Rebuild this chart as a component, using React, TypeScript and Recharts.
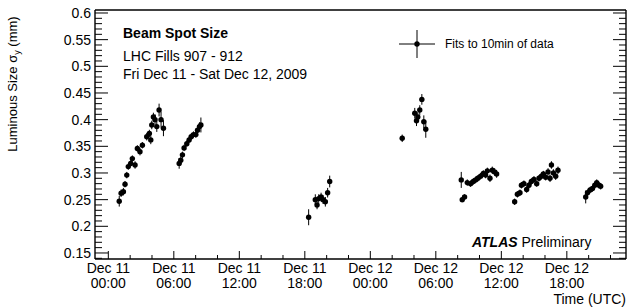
import { ScatterChart, Scatter, XAxis, YAxis, ErrorBar } from 'recharts';

// [hours since Dec 11 00:00 UTC, sigma_y (mm), error (mm)]
type Pt = [number, number, number];

const fill1: Pt[] = [
  [1.0, 0.247, 0.01], [1.17, 0.262, 0.007], [1.38, 0.265, 0.007], [1.53, 0.279, 0.006],
  [1.69, 0.296, 0.006], [1.83, 0.312, 0.006], [2.05, 0.318, 0.006], [2.2, 0.327, 0.006],
  [2.45, 0.315, 0.007], [2.66, 0.346, 0.006], [2.9, 0.34, 0.007], [3.12, 0.352, 0.006],
  [3.52, 0.368, 0.007], [3.76, 0.374, 0.007], [3.89, 0.362, 0.008], [3.98, 0.39, 0.008],
  [4.13, 0.405, 0.008], [4.28, 0.4, 0.01], [4.44, 0.387, 0.01], [4.65, 0.418, 0.012],
  [4.83, 0.4, 0.015], [5.05, 0.384, 0.015],
];
const fill2: Pt[] = [
  [6.49, 0.318, 0.01], [6.64, 0.324, 0.007], [6.79, 0.334, 0.006], [6.94, 0.347, 0.006],
  [7.19, 0.355, 0.006], [7.4, 0.362, 0.006], [7.59, 0.368, 0.006], [7.8, 0.372, 0.006],
  [8.02, 0.372, 0.006], [8.17, 0.38, 0.007], [8.35, 0.387, 0.008], [8.48, 0.39, 0.014],
];
const fill3: Pt[] = [
  [18.35, 0.217, 0.015], [18.96, 0.25, 0.01], [19.12, 0.24, 0.008], [19.27, 0.252, 0.008],
  [19.49, 0.255, 0.008], [19.67, 0.25, 0.008], [19.88, 0.246, 0.009], [20.09, 0.263, 0.009],
  [20.28, 0.284, 0.011],
];
const fill4: Pt[] = [
  [26.92, 0.365, 0.007], [28.07, 0.412, 0.01], [28.23, 0.398, 0.01], [28.35, 0.405, 0.009],
  [28.53, 0.418, 0.009], [28.72, 0.438, 0.01], [28.9, 0.396, 0.012], [29.08, 0.382, 0.016],
];
const fill5: Pt[] = [
  [32.33, 0.287, 0.015], [32.42, 0.25, 0.005], [32.63, 0.255, 0.005], [32.88, 0.282, 0.006],
  [33.18, 0.28, 0.006], [33.43, 0.284, 0.006], [33.64, 0.287, 0.006], [33.85, 0.29, 0.006],
  [34.1, 0.294, 0.006], [34.35, 0.299, 0.006], [34.56, 0.296, 0.006], [34.72, 0.304, 0.006],
  [34.96, 0.29, 0.007], [35.17, 0.305, 0.007], [35.39, 0.302, 0.007], [35.57, 0.298, 0.007],
];
const fill6: Pt[] = [
  [37.22, 0.246, 0.006], [37.47, 0.26, 0.006], [37.71, 0.263, 0.006], [37.84, 0.277, 0.006],
  [38.07, 0.28, 0.006], [38.32, 0.269, 0.006], [38.53, 0.277, 0.006], [38.75, 0.284, 0.006],
  [38.99, 0.288, 0.006], [39.24, 0.28, 0.006], [39.45, 0.29, 0.006], [39.67, 0.294, 0.006],
  [39.85, 0.298, 0.006], [40.06, 0.292, 0.006], [40.28, 0.302, 0.007], [40.46, 0.29, 0.007],
  [40.59, 0.315, 0.007], [40.77, 0.3, 0.007], [40.98, 0.294, 0.007], [41.19, 0.305, 0.007],
];
const fill7: Pt[] = [
  [43.73, 0.255, 0.012], [43.89, 0.263, 0.006], [44.13, 0.268, 0.006], [44.35, 0.271, 0.006],
  [44.56, 0.277, 0.006], [44.74, 0.282, 0.006], [44.95, 0.277, 0.006], [45.1, 0.275, 0.006],
];

const xMajor = [0, 6, 12, 18, 24, 30, 36, 42];
const xDays = ['Dec 11', 'Dec 11', 'Dec 11', 'Dec 11', 'Dec 12', 'Dec 12', 'Dec 12', 'Dec 12'];
const xTimes = ['00:00', '06:00', '12:00', '18:00', '00:00', '06:00', '12:00', '18:00'];
const yMajor = [0.15, 0.2, 0.25, 0.3, 0.35, 0.4, 0.45, 0.5, 0.55, 0.6];
const yLabels = ['0.15', '0.2', '0.25', '0.3', '0.35', '0.4', '0.45', '0.5', '0.55', '0.6'];

const X_DOMAIN: [number, number] = [-1.22, 47.42];
const Y_DOMAIN: [number, number] = [0.1387, 0.6056];

const FONT = '"Liberation Sans", Arial, Helvetica, sans-serif';

const points = [fill1, fill2, fill3, fill4, fill5, fill6, fill7]
  .flat()
  .map(([h, v, err]) => ({ h, v, err }));

// minor ticks every 2h / 0.01 mm
const xTicks: number[] = [];
for (let h = 0; h <= 46; h += 2) xTicks.push(h);
const yTicks: number[] = [];
for (let i = 14; i <= 60; i++) yTicks.push(i / 100);

const majorIdx = (arr: number[], v: number) => arr.findIndex((m) => Math.abs(m - v) < 1e-6);

function BottomTick({ x, y, payload }: any) {
  const i = majorIdx(xMajor, payload.value);
  const len = i >= 0 ? 8 : 4;
  return (
    <g>
      <line x1={x} x2={x} y1={y} y2={y - len} stroke="#000" />
      {i >= 0 && (
        <text x={x} y={y} textAnchor="middle" fontSize={14} fontFamily={FONT} fill="#000">
          <tspan x={x} dy={14}>{xDays[i]}</tspan>
          <tspan x={x} dy={15}>{xTimes[i]}</tspan>
        </text>
      )}
    </g>
  );
}

function TopTick({ x, y, payload }: any) {
  const len = majorIdx(xMajor, payload.value) >= 0 ? 8 : 4;
  return <line x1={x} x2={x} y1={y} y2={y + len} stroke="#000" />;
}

function LeftTick({ x, y, payload }: any) {
  const i = majorIdx(yMajor, payload.value);
  const len = i >= 0 ? 13 : 7;
  return (
    <g>
      <line x1={x} x2={x + len} y1={y} y2={y} stroke="#000" />
      {i >= 0 && (
        <text x={x - 4} y={y} dy={5} textAnchor="end" fontSize={14} fontFamily={FONT} fill="#000">
          {yLabels[i]}
        </text>
      )}
    </g>
  );
}

function RightTick({ x, y, payload }: any) {
  const len = majorIdx(yMajor, payload.value) >= 0 ? 13 : 7;
  return <line x1={x} x2={x - len} y1={y} y2={y} stroke="#000" />;
}

const Dot = (p: any) => <circle cx={p.cx} cy={p.cy} r={2.7} fill="#000" />;

const txt = (left: number, top: number, extra: any = {}) => ({
  position: 'absolute' as const,
  left,
  top,
  fontFamily: FONT,
  fontSize: 14,
  color: '#000',
  whiteSpace: 'nowrap' as const,
  lineHeight: 1,
  ...extra,
});

export default function App() {
  return (
    <div style={{ position: 'relative', width: 640, height: 308, background: '#fff' }}>
      <style>{'body{margin:0}'}</style>
      <ScatterChart width={640} height={308} margin={{ top: 0, right: 0, bottom: 0, left: 0 }}>
        <XAxis
          xAxisId="b"
          dataKey="h"
          type="number"
          domain={X_DOMAIN}
          allowDataOverflow
          ticks={xTicks}
          interval={0}
          height={49}
          tickSize={0}
          tickMargin={0}
          axisLine={{ stroke: '#000', strokeWidth: 1.4 }}
          tick={<BottomTick />}
        />
        <XAxis
          xAxisId="t"
          orientation="top"
          type="number"
          domain={X_DOMAIN}
          allowDataOverflow
          ticks={xTicks}
          interval={0}
          height={10}
          tickSize={0}
          tickMargin={0}
          axisLine={{ stroke: '#000', strokeWidth: 1.4 }}
          tick={<TopTick />}
        />
        <YAxis
          yAxisId="l"
          dataKey="v"
          type="number"
          domain={Y_DOMAIN}
          allowDataOverflow
          ticks={yTicks}
          interval={0}
          width={95}
          tickSize={0}
          tickMargin={0}
          axisLine={{ stroke: '#000', strokeWidth: 1.4 }}
          tick={<LeftTick />}
        />
        <YAxis
          yAxisId="r"
          orientation="right"
          type="number"
          domain={Y_DOMAIN}
          allowDataOverflow
          ticks={yTicks}
          interval={0}
          width={14}
          tickSize={0}
          tickMargin={0}
          axisLine={{ stroke: '#000', strokeWidth: 1.4 }}
          tick={<RightTick />}
        />
        <Scatter xAxisId="b" yAxisId="l" data={points} dataKey="v" shape={Dot} isAnimationActive={false}>
          <ErrorBar dataKey="err" direction="y" width={0} stroke="#000" strokeWidth={1} isAnimationActive={false} />
        </Scatter>
      </ScatterChart>

      {/* y-axis title */}
      <div
        style={txt(14, 84, {
          fontSize: 13,
          transform: 'translate(-50%, -50%) rotate(-90deg)',
        })}
      >
        Luminous Size σ<sub style={{ fontSize: 9, verticalAlign: -3 }}>y</sub> (mm)
      </div>

      <div style={txt(123, 26, { fontWeight: 'bold' })}>Beam Spot Size</div>
      <div style={txt(123, 49)}>LHC Fills 907 - 912</div>
      <div style={txt(123, 67)}>Fri Dec 11 - Sat Dec 12, 2009</div>

      {/* legend */}
      <svg style={{ position: 'absolute', left: 0, top: 0 }} width={640} height={308}>
        <line x1={399} x2={435} y1={44} y2={44} stroke="#000" />
        <line x1={417} x2={417} y1={30} y2={58} stroke="#000" />
        <circle cx={417} cy={44} r={2.7} fill="#000" />
      </svg>
      <div style={txt(445, 38, { fontSize: 12 })}>Fits to 10min of data</div>

      <div style={txt(472, 235)}>
        <span style={{ fontWeight: 'bold', fontStyle: 'italic' }}>ATLAS</span> Preliminary
      </div>
      <div style={txt(626, 292, { transform: 'translateX(-100%)' })}>Time (UTC)</div>
    </div>
  );
}
